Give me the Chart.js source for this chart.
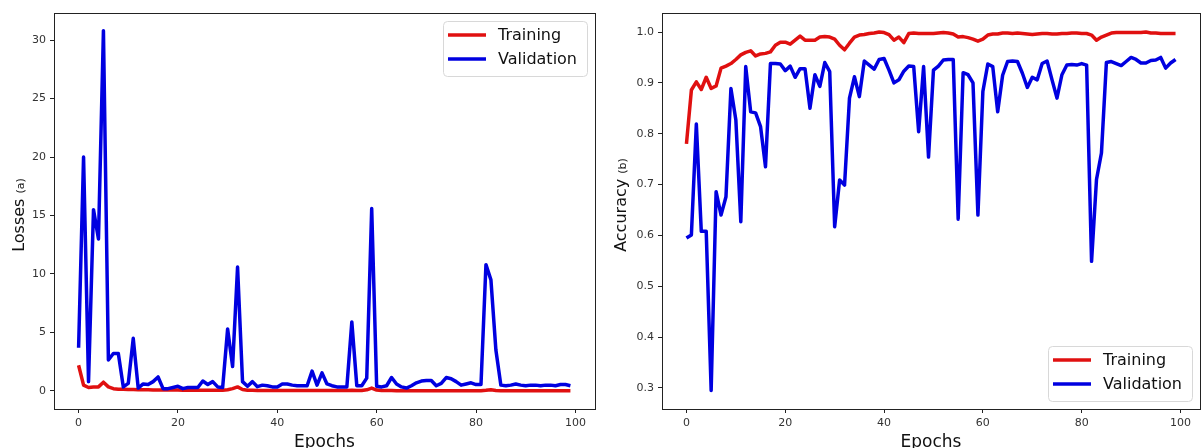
<!DOCTYPE html>
<html>
<head>
<meta charset="utf-8">
<script src="https://cdn.jsdelivr.net/npm/chart.js@4.4.1/dist/chart.umd.min.js"></script>
<style>
  body { margin: 0; background: #fff; }
  .wrap { position: relative; width: 1201px; height: 448px; overflow: hidden; }
  canvas { position: absolute; top: 0; }
  #lossChart { left: 0; }
  #accChart { left: 600px; }
</style>
</head>
<body>
<div class="wrap">
  <canvas id="lossChart" width="600" height="453"></canvas>
  <canvas id="accChart" width="601" height="453"></canvas>
</div>
<script>
// Data, one value per epoch (0..99)
const epochs = Array.from({ length: 100 }, (_, i) => i);
const xTicks = [0, 20, 40, 60, 80, 100];
const lossTicks = [0, 5, 10, 15, 20, 25, 30];
const accTicks = [0.3, 0.4, 0.5, 0.6, 0.7, 0.8, 0.9, 1.0];

const lossTrain = [
  2.2, 0.5, 0.3, 0.35, 0.35, 0.75, 0.35, 0.2, 0.15, 0.15,
  0.12, 0.12, 0.1, 0.1, 0.1, 0.09, 0.09, 0.08, 0.08, 0.08,
  0.08, 0.07, 0.07, 0.07, 0.07, 0.07, 0.06, 0.06, 0.06, 0.06,
  0.1, 0.2, 0.35, 0.12, 0.06, 0.06, 0.05, 0.05, 0.05, 0.05,
  0.05, 0.05, 0.05, 0.05, 0.05, 0.04, 0.04, 0.04, 0.04, 0.04,
  0.04, 0.04, 0.04, 0.04, 0.04, 0.06, 0.04, 0.04, 0.1, 0.25,
  0.08, 0.04, 0.04, 0.04, 0.03, 0.03, 0.03, 0.03, 0.03, 0.03,
  0.03, 0.03, 0.03, 0.03, 0.03, 0.03, 0.03, 0.03, 0.03, 0.03,
  0.03, 0.03, 0.06, 0.1, 0.05, 0.03, 0.03, 0.03, 0.03, 0.03,
  0.03, 0.03, 0.03, 0.03, 0.03, 0.03, 0.03, 0.03, 0.03, 0.03
];
const lossVal = [
  3.7, 20.0, 0.8, 15.5, 13.0, 30.8, 2.65, 3.2, 3.2, 0.35,
  0.65, 4.5, 0.25, 0.6, 0.55, 0.8, 1.2, 0.2, 0.2, 0.3,
  0.4, 0.2, 0.3, 0.3, 0.3, 0.85, 0.55, 0.8, 0.35, 0.3,
  5.3, 2.1, 10.6, 0.8, 0.4, 0.8, 0.37, 0.5, 0.45, 0.35,
  0.35, 0.6, 0.6, 0.5, 0.45, 0.45, 0.45, 1.7, 0.5, 1.55,
  0.6, 0.45, 0.35, 0.35, 0.35, 5.9, 0.45, 0.45, 1.1, 15.6,
  0.4, 0.35, 0.45, 1.15, 0.6, 0.35, 0.25, 0.45, 0.7, 0.85,
  0.9, 0.9, 0.45, 0.65, 1.15, 1.05, 0.8, 0.5, 0.6, 0.7,
  0.55, 0.55, 10.8, 9.5, 3.5, 0.5, 0.45, 0.5, 0.6, 0.5,
  0.45, 0.5, 0.5, 0.45, 0.5, 0.5, 0.45, 0.55, 0.55, 0.45
];
const accTrain = [
  0.78, 0.886, 0.902, 0.887, 0.911, 0.889, 0.894, 0.929, 0.933, 0.938,
  0.946, 0.955, 0.96, 0.963, 0.953, 0.957, 0.958, 0.961, 0.974, 0.98,
  0.98, 0.976, 0.984, 0.992, 0.984, 0.984, 0.984, 0.99, 0.991, 0.99,
  0.986, 0.974, 0.965, 0.978, 0.99, 0.994, 0.995, 0.997, 0.998, 1.0,
  0.999, 0.995, 0.984, 0.99, 0.979, 0.997, 0.998, 0.997, 0.997, 0.997,
  0.997, 0.998, 0.999, 0.998, 0.996, 0.99, 0.991, 0.989, 0.986, 0.982,
  0.986, 0.994, 0.996, 0.996, 0.998, 0.998, 0.997, 0.998, 0.997, 0.996,
  0.995, 0.996, 0.997, 0.997, 0.996, 0.996, 0.997, 0.997, 0.998, 0.998,
  0.997, 0.997, 0.994, 0.984, 0.99, 0.994, 0.998, 0.999, 0.999, 0.999,
  0.999, 0.999, 0.999, 1.0, 0.998, 0.998, 0.997, 0.997, 0.997, 0.997
];
const accVal = [
  0.595, 0.601, 0.819, 0.608, 0.608, 0.295, 0.686, 0.64, 0.676, 0.889,
  0.827, 0.627, 0.932, 0.843, 0.841, 0.814, 0.735, 0.938, 0.938, 0.937,
  0.924, 0.933, 0.911, 0.928, 0.928, 0.85, 0.916, 0.893, 0.94, 0.922,
  0.617, 0.709, 0.699, 0.87, 0.912, 0.873, 0.943, 0.935, 0.927, 0.946,
  0.948, 0.925, 0.9, 0.906, 0.923, 0.933, 0.932, 0.804, 0.932, 0.754,
  0.925, 0.933, 0.945, 0.946, 0.946, 0.632, 0.92, 0.916, 0.9, 0.64,
  0.883, 0.937, 0.932, 0.843, 0.915, 0.942, 0.943, 0.942, 0.919, 0.891,
  0.911, 0.906, 0.938, 0.943, 0.906, 0.87, 0.916, 0.935, 0.936, 0.935,
  0.938, 0.935, 0.549, 0.71, 0.762, 0.94, 0.942, 0.938, 0.934, 0.942,
  0.95, 0.946, 0.939, 0.939, 0.944, 0.945, 0.95, 0.929, 0.939, 0.946
];

const RED = "#e01010";
const BLUE = "#0000e0";
const INK = "#222";
const FONT = "DejaVu Sans";

function toPoints(values) {
  return values.map((v, i) => ({ x: epochs[i], y: v }));
}

// Full box round the plot area, like matplotlib spines
const frameBox = {
  id: "frameBox",
  afterDraw(chart) {
    const a = chart.chartArea;
    const ctx = chart.ctx;
    ctx.save();
    ctx.strokeStyle = INK;
    ctx.lineWidth = 1;
    ctx.strokeRect(Math.round(a.left) + 0.5, Math.round(a.top) + 0.5,
      Math.round(a.right - a.left), Math.round(a.bottom - a.top));
    ctx.restore();
  },
};

// Y-axis label with a smaller suffix, e.g. "Losses (a)"
const yLabel = {
  id: "yLabel",
  afterDraw(chart, args, opts) {
    const a = chart.chartArea;
    const ctx = chart.ctx;
    ctx.save();
    ctx.fillStyle = "#111";
    ctx.textBaseline = "alphabetic";
    ctx.font = "16px " + FONT;
    const w1 = ctx.measureText(opts.main + " ").width;
    ctx.font = "11px " + FONT;
    const w2 = ctx.measureText(opts.sub).width;
    const total = w1 + w2;
    ctx.translate(opts.x, (a.top + a.bottom) / 2 + opts.dy);
    ctx.rotate(-Math.PI / 2);
    ctx.textAlign = "left";
    ctx.font = "16px " + FONT;
    ctx.fillText(opts.main, -total / 2, 0);
    ctx.font = "11px " + FONT;
    ctx.fillText(opts.sub, -total / 2 + w1, 0);
    ctx.restore();
  },
};

// Legend box drawn inside the plot area
const boxLegend = {
  id: "boxLegend",
  afterDraw(chart, args, opts) {
    const a = chart.chartArea;
    const ctx = chart.ctx;
    const sets = chart.data.datasets;
    ctx.save();
    ctx.font = "16px " + FONT;
    let maxW = 0;
    sets.forEach((d) => { maxW = Math.max(maxW, ctx.measureText(d.label).width); });
    const w = 55 + maxW + 10;
    const h = 55;
    const x = a.right - 8 - w;
    const y = opts.corner === "ne" ? a.top + 8 : a.bottom - 8 - h;
    ctx.beginPath();
    ctx.roundRect(Math.round(x) + 0.5, Math.round(y) + 0.5, Math.round(w), h, 4);
    ctx.fillStyle = "rgba(255,255,255,0.8)";
    ctx.fill();
    ctx.strokeStyle = "#d8d8d8";
    ctx.lineWidth = 1;
    ctx.stroke();
    sets.forEach((d, i) => {
      const ly = y + 14 + i * 24;
      ctx.beginPath();
      ctx.moveTo(x + 5, ly);
      ctx.lineTo(x + 43, ly);
      ctx.strokeStyle = d.borderColor;
      ctx.lineWidth = 3.5;
      ctx.stroke();
      ctx.fillStyle = "#111";
      ctx.textBaseline = "middle";
      ctx.fillText(d.label, x + 55, ly + 1);
    });
    ctx.restore();
  },
};

function makeChart(id, train, val, yMin, yMax, yTicks, yWidth, padRight, legendCorner, label, tickFmt) {
  return new Chart(document.getElementById(id), {
    type: "line",
    data: {
      datasets: [
        { label: "Training", data: toPoints(train), borderColor: RED, order: 1 },
        { label: "Validation", data: toPoints(val), borderColor: BLUE, order: 0 },
      ],
    },
    options: {
      responsive: false,
      animation: false,
      devicePixelRatio: 1,
      layout: { padding: { top: 13, right: padRight, left: 0, bottom: 0 } },
      elements: {
        point: { radius: 0 },
        line: { borderWidth: 3.5, tension: 0, borderJoinStyle: "round", borderCapStyle: "butt" },
      },
      plugins: {
        legend: { display: false },
        tooltip: { enabled: false },
        yLabel: label,
        boxLegend: { corner: legendCorner },
      },
      scales: {
        x: {
          type: "linear",
          min: -4.95,
          max: 103.95,
          afterBuildTicks: (axis) => { axis.ticks = xTicks.map((v) => ({ value: v })); },
          afterFit: (s) => { s.height = 44; },
          ticks: { color: "#333", font: { family: FONT, size: 11 }, padding: 4, maxRotation: 0 },
          grid: { drawOnChartArea: false, drawTicks: true, tickLength: 4, color: INK },
          border: { display: true, color: INK },
          title: { display: true, text: "Epochs", color: "#111", font: { family: FONT, size: 17 }, padding: { top: 0, bottom: 0 } },
        },
        y: {
          type: "linear",
          min: yMin,
          max: yMax,
          afterBuildTicks: (axis) => { axis.ticks = yTicks.map((v) => ({ value: v })); },
          afterFit: (s) => { s.width = yWidth; },
          ticks: { color: "#333", font: { family: FONT, size: 11 }, padding: 4, callback: tickFmt },
          grid: { drawOnChartArea: false, drawTicks: true, tickLength: 4, color: INK },
          border: { display: true, color: INK },
        },
      },
    },
    plugins: [frameBox, yLabel, boxLegend],
  });
}

makeChart("lossChart", lossTrain, lossVal, -1.54, 32.31, lossTicks, 54, 5, "ne",
  { main: "Losses", sub: "(a)", x: 24, dy: 4 }, (v) => String(v));
makeChart("accChart", accTrain, accVal, 0.2587, 1.0374, accTicks, 62, 1, "se",
  { main: "Accuracy", sub: "(b)", x: 26, dy: -6 }, (v) => v.toFixed(1));
</script>
</body>
</html>
